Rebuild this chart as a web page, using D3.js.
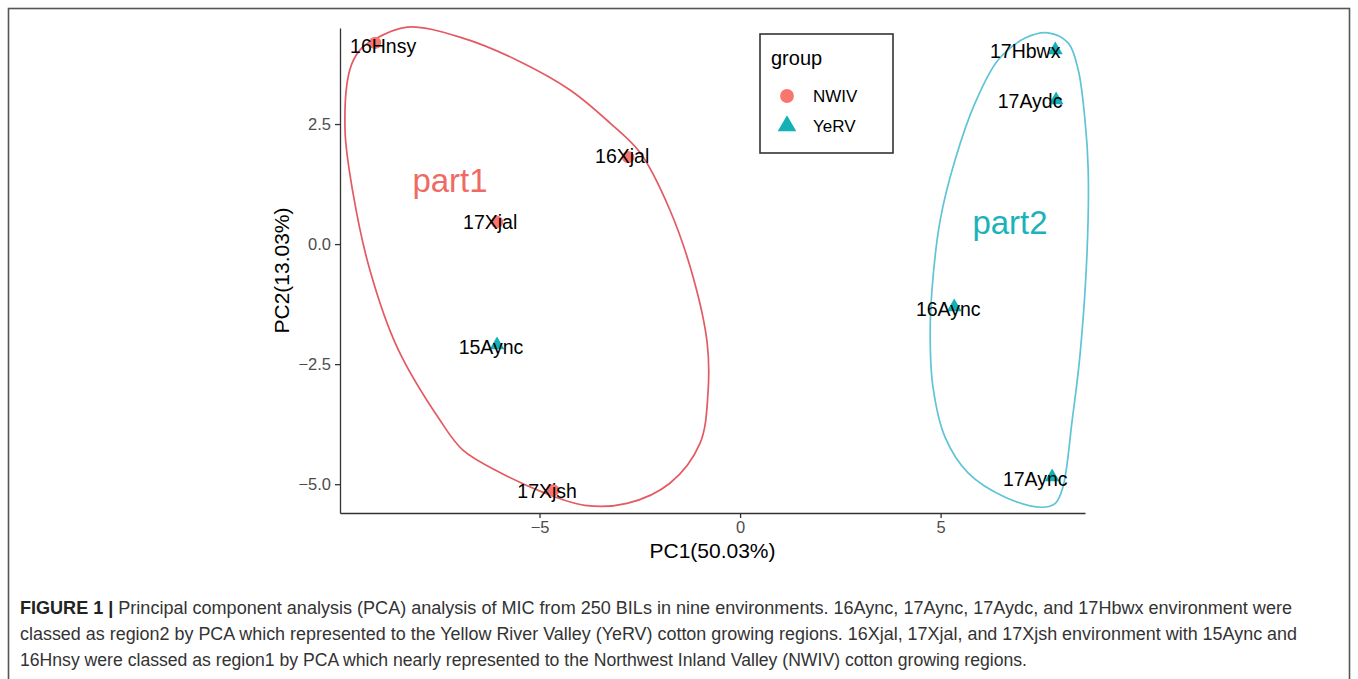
<!DOCTYPE html>
<html>
<head>
<meta charset="utf-8">
<script src="https://cdn.jsdelivr.net/npm/d3@7/dist/d3.min.js"></script>
<style>
  html, body { margin: 0; padding: 0; background: #fff; }
  svg { display: block; }
</style>
</head>
<body>
<script>
// Environments and their PCA scores
const envs   = ["16Hnsy", "16Xjal", "17Xjal", "15Aync", "17Xjsh", "17Hbwx", "17Aydc", "16Aync", "17Aync"];
const group  = ["NWIV", "NWIV", "NWIV", "YeRV", "NWIV", "YeRV", "YeRV", "YeRV", "YeRV"];
const pc1    = [-9.10, -2.79, -6.06, -6.06, -4.66, 7.86, 7.88, 5.34, 7.78];
const pc2    = [ 4.19,  1.81,  0.46, -2.10, -5.13, 4.04, 3.00, -1.31, -4.85];
// Repelled text positions of the point labels (PC units)
const labelPc1 = [-8.90, -2.94, -6.23, -6.21, -4.81, 7.11, 7.23, 5.19, 7.36];
const labelPc2 = [ 4.13,  1.83,  0.46, -2.15, -5.15, 4.02, 2.98, -1.35, -4.90];

const groupNames = ["NWIV", "YeRV"];
const xTicks = [-5, 0, 5];
const yTicks = [-5, -2.5, 0, 2.5];

// Outlines drawn around the two clusters (PC units)
const part1Pc1 = [-9.15, -8.30, -6.91, -5.56, -4.24, -3.24, -2.49, -1.75, -1.17, -0.82, -0.80, -1.00, -1.75, -2.82, -3.87, -4.91, -6.00, -6.91, -7.48, -8.55, -9.23, -9.65, -9.85, -9.73, -9.48];
const part1Pc2 = [ 4.25,  4.52,  4.29,  3.83,  3.21,  2.52,  1.90,  0.71, -0.69, -2.06, -3.10, -4.15, -4.98, -5.40, -5.44, -5.17, -4.75, -4.29, -3.67, -2.15, -0.54,  1.06,  2.38,  3.63,  4.04];
const part2Pc1 = [7.68, 7.11, 6.43, 5.86, 5.36, 4.99, 4.79, 4.74, 4.81, 5.11, 5.69, 6.61, 7.53, 7.86, 8.05, 8.28, 8.48, 8.65, 8.68, 8.60, 8.43, 8.18];
const part2Pc2 = [4.40, 4.29, 3.83, 2.94, 1.75, 0.50, -0.90, -1.94, -2.98, -4.02, -4.77, -5.27, -5.48, -5.40, -5.06, -3.67, -2.27, -0.19, 1.54, 2.58, 3.63, 4.19];

const captionLines = [
  "Principal component analysis (PCA) analysis of MIC from 250 BILs in nine environments. 16Aync, 17Aync, 17Aydc, and 17Hbwx environment were",
  "classed as region2 by PCA which represented to the Yellow River Valley (YeRV) cotton growing regions. 16Xjal, 17Xjal, and 17Xjsh environment with 15Aync and",
  "16Hnsy were classed as region1 by PCA which nearly represented to the Northwest Inland Valley (NWIV) cotton growing regions."
];

const W = 1358, H = 679;
const font = "Arial, 'Liberation Sans', Helvetica, sans-serif";
const pointColor = { NWIV: "#F8766D", YeRV: "#12B1B5" };

const svg = d3.select("body").append("svg").attr("width", W).attr("height", H);

// figure frame
svg.append("rect").attr("x", 8.5).attr("y", 8.5).attr("width", 1341).attr("height", 700)
  .attr("fill", "none").attr("stroke", "#555").attr("stroke-width", 1.6);

const x = d3.scaleLinear().domain([-9.975, 8.6]).range([340, 1085]);
const y = d3.scaleLinear().domain([-5.6, 4.5]).range([513, 28]);

// axes
const xAxis = svg.append("g").attr("transform", `translate(0,${y.range()[0]})`)
  .call(d3.axisBottom(x).tickValues(xTicks).tickFormat(d3.format("d")).tickSize(5).tickSizeOuter(0).tickPadding(3));
const yAxis = svg.append("g").attr("transform", `translate(${x.range()[0]},0)`)
  .call(d3.axisLeft(y).tickValues(yTicks).tickFormat(d3.format(".1f")).tickSize(5).tickSizeOuter(0).tickPadding(4));
[xAxis, yAxis].forEach(g => {
  g.select(".domain").attr("stroke", "#333").attr("stroke-width", 1.3);
  g.selectAll(".tick line").attr("stroke", "#333").attr("stroke-width", 1.3);
  g.selectAll(".tick text").attr("fill", "#4D4D4D").attr("font-size", 16.5).attr("font-family", font);
});

svg.append("text").attr("x", (x.range()[0] + x.range()[1]) / 2).attr("y", 558)
  .attr("text-anchor", "middle").attr("font-size", 21).attr("font-family", font).attr("fill", "#000")
  .text("PC1(50.03%)");
svg.append("text").attr("transform", `translate(289,${(y.range()[0] + y.range()[1]) / 2}) rotate(-90)`)
  .attr("text-anchor", "middle").attr("font-size", 21).attr("font-family", font).attr("fill", "#000")
  .text("PC2(13.03%)");

// cluster outlines
const outline = d3.line().x(d => x(d[0])).y(d => y(d[1])).curve(d3.curveCatmullRomClosed.alpha(0.5));
svg.append("path").attr("d", outline(d3.zip(part1Pc1, part1Pc2)))
  .attr("fill", "none").attr("stroke", "#E45A62").attr("stroke-width", 1.7);
svg.append("path").attr("d", outline(d3.zip(part2Pc1, part2Pc2)))
  .attr("fill", "none").attr("stroke", "#5EC4D6").attr("stroke-width", 1.7);

svg.append("text").attr("x", 450).attr("y", 192).attr("text-anchor", "middle")
  .attr("font-size", 33).attr("font-family", font).attr("fill", "#EE6B65").text("part1");
svg.append("text").attr("x", 1010).attr("y", 234).attr("text-anchor", "middle")
  .attr("font-size", 33).attr("font-family", font).attr("fill", "#1AB3B9").text("part2");

// points
const rows = envs.map((e, i) => ({ env: e, group: group[i], pc1: pc1[i], pc2: pc2[i], lx: labelPc1[i], ly: labelPc2[i] }));
const circle = d3.symbol().type(d3.symbolCircle).size(120);
const tri = d3.symbol().type(d3.symbolTriangle).size(95);
svg.append("g").selectAll("path").data(rows).join("path")
  .attr("transform", d => `translate(${x(d.pc1)},${y(d.pc2)})`)
  .attr("d", d => d.group === "NWIV" ? circle() : tri())
  .attr("fill", d => pointColor[d.group]);

// point labels
svg.append("g").selectAll("text").data(rows).join("text")
  .attr("x", d => x(d.lx)).attr("y", d => y(d.ly))
  .attr("dy", "0.36em").attr("text-anchor", "middle")
  .attr("font-size", 19.5).attr("font-family", font).attr("fill", "#000")
  .text(d => d.env);

// legend
const lg = svg.append("g");
lg.append("rect").attr("x", 760).attr("y", 34).attr("width", 133).attr("height", 119)
  .attr("fill", "#fff").attr("stroke", "#333").attr("stroke-width", 1.6);
lg.append("text").attr("x", 771).attr("y", 65).attr("font-size", 20).attr("font-family", font).text("group");
groupNames.forEach((g, i) => {
  const cy = 96 + i * 30;
  lg.append("path").attr("transform", `translate(787,${cy})`)
    .attr("d", g === "NWIV" ? d3.symbol().type(d3.symbolCircle).size(150)() : d3.symbol().type(d3.symbolTriangle).size(150)())
    .attr("fill", pointColor[g]);
  lg.append("text").attr("x", 813).attr("y", cy).attr("dy", "0.36em")
    .attr("font-size", 17).attr("font-family", font).attr("fill", "#000").text(g);
});

// caption
const capFont = "'Liberation Sans Narrow', 'Arial Narrow', Arial, sans-serif";
const capWidths = [1272, 1277, 1007];
const cap = svg.append("g").attr("font-family", capFont).attr("font-size", 17.5).attr("fill", "#333");
captionLines.forEach((line, i) => {
  const t = cap.append("text").attr("x", 20).attr("y", 614 + i * 26)
    .attr("textLength", capWidths[i]).attr("lengthAdjust", "spacingAndGlyphs");
  if (i === 0) {
    t.append("tspan").attr("font-weight", "bold").attr("fill", "#222").text("FIGURE 1 | ");
  }
  t.append("tspan").text(line);
});
</script>
</body>
</html>
